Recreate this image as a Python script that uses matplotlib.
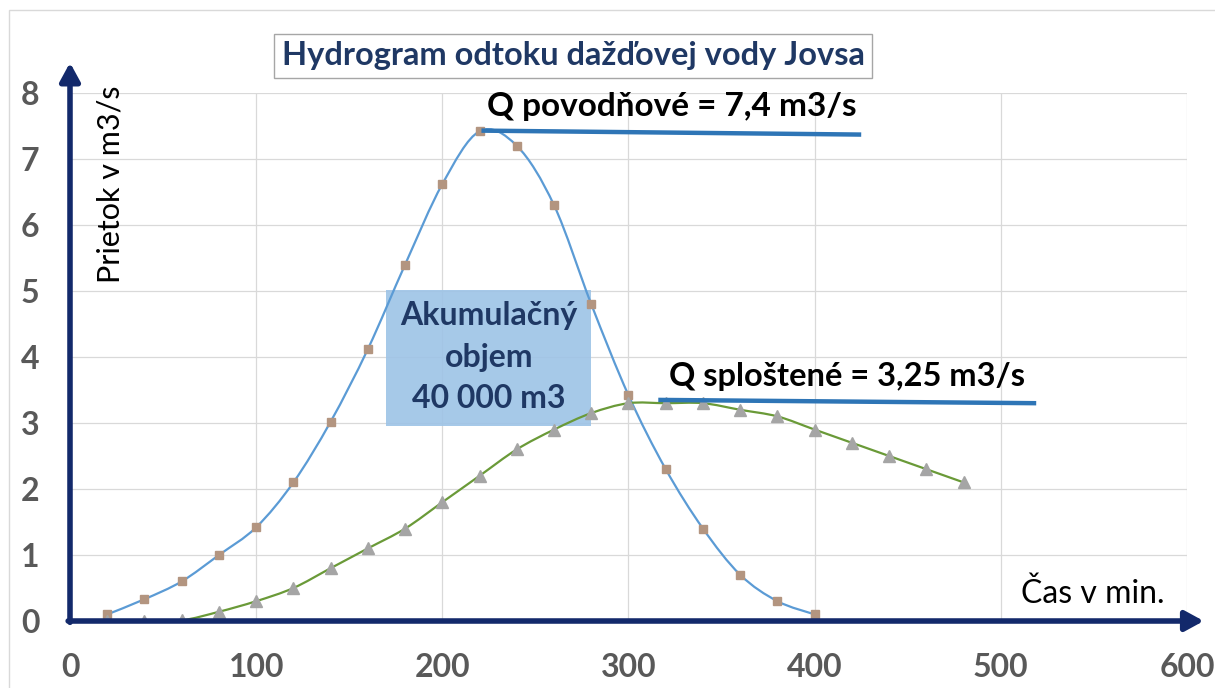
import matplotlib
matplotlib.use("Agg")
import matplotlib.pyplot as plt
from matplotlib.path import Path
from matplotlib.patches import PathPatch, Rectangle

# Data
time_min = [20, 40, 60, 80, 100, 120, 140, 160, 180, 200, 220, 240, 260,
            280, 300, 320, 340, 360, 380, 400]
q_flood = [0.1, 0.33, 0.6, 1.0, 1.42, 2.1, 3.02, 4.12, 5.4, 6.62, 7.42, 7.2,
           6.3, 4.8, 3.42, 2.3, 1.4, 0.7, 0.3, 0.1]

time_flat = [20, 40, 60, 80, 100, 120, 140, 160, 180, 200, 220, 240, 260,
             280, 300, 320, 340, 360, 380, 400, 420, 440, 460, 480]
q_flat = [0.0, 0.0, 0.01, 0.14, 0.3, 0.5, 0.8, 1.1, 1.4, 1.8, 2.2, 2.6, 2.9,
          3.15, 3.3, 3.3, 3.3, 3.2, 3.1, 2.9, 2.7, 2.5, 2.3, 2.1]

x_ticks = [0, 100, 200, 300, 400, 500, 600]
y_ticks = [0, 1, 2, 3, 4, 5, 6, 7, 8]

title = "Hydrogram odtoku dažďovej vody Jovsa"
peak_label = "Q povodňové = 7,4 m3/s"
flat_label = "Q sploštené = 3,25 m3/s"
box_label = "Akumulačný\nobjem\n40 000 m3"

plt.rcParams["font.family"] = ["Lato", "DejaVu Sans"]

NAVY = "#13296B"
DARKBLUE = "#1F3864"


def smooth_path(xs, ys):
    # Excel-like smoothed line: cubic Bezier segments through the points
    pts = list(zip(xs, ys))
    verts = [pts[0]]
    codes = [Path.MOVETO]
    n = len(pts)
    for i in range(n - 1):
        p0 = pts[i - 1] if i > 0 else pts[i]
        p1 = pts[i]
        p2 = pts[i + 1]
        p3 = pts[i + 2] if i + 2 < n else pts[i + 1]
        c1 = (p1[0] + (p2[0] - p0[0]) / 6, p1[1] + (p2[1] - p0[1]) / 6)
        c2 = (p2[0] - (p3[0] - p1[0]) / 6, p2[1] - (p3[1] - p1[1]) / 6)
        verts += [c1, c2, p2]
        codes += [Path.CURVE4] * 3
    return Path(verts, codes)


fig = plt.figure(figsize=(12.15, 6.88), dpi=100)
fig.patches.append(Rectangle((9 / 1215, -0.1), 1.2, 1 - 10 / 688 + 0.1,
                             transform=fig.transFigure, fill=False,
                             edgecolor="#D9D9D9", lw=1))
ax = fig.add_axes([70 / 1215, 1 - 621 / 688, 1117 / 1215, 528 / 688])
ax.set_xlim(0, 600)
ax.set_ylim(0, 8)
for s in ax.spines.values():
    s.set_visible(False)

ax.set_xticks(x_ticks)
ax.set_yticks(y_ticks)
ax.tick_params(length=0, labelsize=23, labelcolor="#595959")
ax.tick_params(axis="x", pad=23)
ax.tick_params(axis="y", pad=22)
for lab in ax.get_xticklabels() + ax.get_yticklabels():
    lab.set_fontweight("bold")
ax.grid(True, color="#D9D9D9", lw=0.9)
ax.set_axisbelow(True)

# accumulation box
ax.add_patch(Rectangle((170, 2.95), 110, 2.07, facecolor="#9DC3E6",
                       edgecolor="none", alpha=0.9, zorder=2))
ax.text(225, 4.0, box_label, ha="center", va="center", fontsize=23,
        fontweight="bold", color=DARKBLUE, linespacing=1.5, zorder=3)

# series
ax.add_patch(PathPatch(smooth_path(time_min, q_flood), fill=False,
                       edgecolor="#5B9BD5", lw=1.6, zorder=4))
ax.plot(time_min, q_flood, ls="none", marker="s", ms=5.5,
        color="#B39580", zorder=5)
ax.add_patch(PathPatch(smooth_path(time_flat, q_flat), fill=False,
                       edgecolor="#6A9A38", lw=1.6, zorder=4))
ax.plot(time_flat, q_flat, ls="none", marker="^", ms=8,
        color="#A5A5A5", zorder=5)

# peak lines
ax.plot([221, 425], [7.43, 7.37], color="#2E75B6", lw=3.2, zorder=6,
        solid_capstyle="butt")
ax.text(224, 7.79, peak_label, ha="left", va="center", fontsize=24,
        fontweight="bold", color="black")
ax.plot([316, 519], [3.35, 3.30], color="#2E75B6", lw=3.2, zorder=6,
        solid_capstyle="butt")
ax.text(322, 3.71, flat_label, ha="left", va="center", fontsize=23.5,
        fontweight="bold", color="black")

# axis arrows
arrow = dict(arrowstyle="-|>,head_length=0.55,head_width=0.3", lw=4,
             color=NAVY, shrinkA=0, shrinkB=0, mutation_scale=20)
ax.annotate("", xy=(609, 0), xytext=(-1, 0), arrowprops=arrow,
            annotation_clip=False, zorder=7)
ax.annotate("", xy=(0, 8.46), xytext=(0, -0.02), arrowprops=arrow,
            annotation_clip=False, zorder=7)

ax.text(22, 6.62, "Prietok v m3/s", rotation=90, ha="center", va="center",
        fontsize=22, color="black")
ax.text(588, 0.42, "Čas v min.", ha="right", va="center", fontsize=23,
        color="black")

fig.text(573 / 1215, 1 - 56 / 688, title, ha="center", va="center",
         fontsize=23.5, fontweight="bold", color=DARKBLUE,
         bbox=dict(boxstyle="square,pad=0.22", facecolor="white",
                   edgecolor="#A6A6A6", lw=1))

fig.savefig("out.png", dpi=100)
